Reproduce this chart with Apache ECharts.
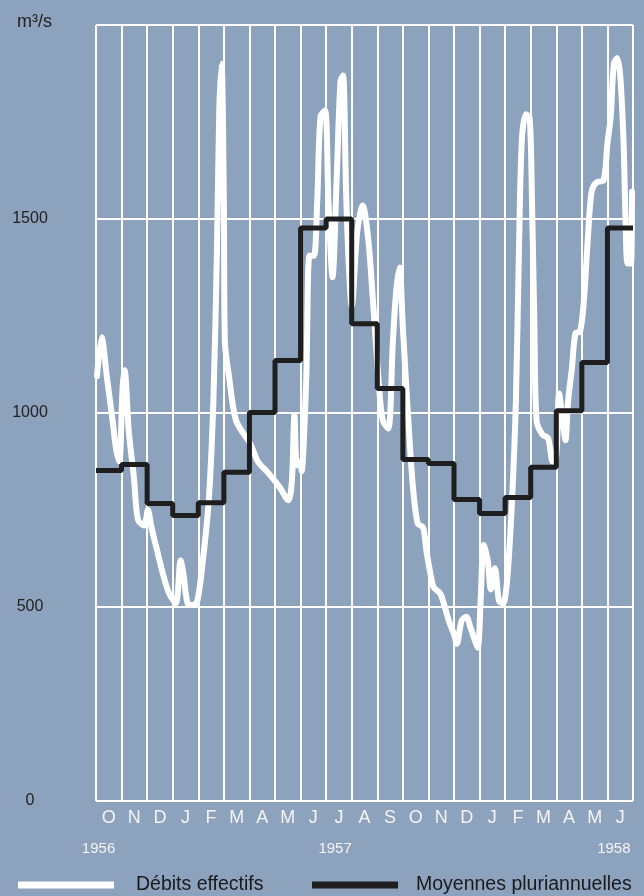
<!DOCTYPE html>
<html>
<head>
<meta charset="utf-8">
<script src="https://cdn.jsdelivr.net/npm/echarts@6/dist/echarts.min.js"></script>
<style>
html,body{margin:0;padding:0;background:#8da2bd;}
#c{width:644px;height:896px;}
</style>
</head>
<body>
<div id="c"></div>
<script>
// Month letters (Oct 1956 .. Jun 1958)
var months = ['O','N','D','J','F','M','A','M','J','J','A','S','O','N','D','J','F','M','A','M','J'];
var yearLabels = ['1956','1957','1958'];
var yTicks = [0, 500, 1000, 1500, 2000];

// Moyennes pluriannuelles (monthly mean, m3/s) per month interval
var moyennes = [852, 867, 767, 736, 769, 847, 1001, 1135, 1477, 1500, 1230, 1063,
                880, 870, 777, 741, 782, 860, 1006, 1130, 1477];

// Débits effectifs: time in months since 1 Oct 1956
var debitsT = [0.04,0.22,0.43,0.65,0.78,0.91,1.04,1.12,1.28,1.48,1.64,1.88,2.03,2.17,2.41,2.66,2.86,
  3.12,3.31,3.42,3.58,3.77,3.96,4.18,4.41,4.59,4.73,4.82,4.91,5.00,5.04,5.20,5.48,6.04,6.33,6.74,
  7.17,7.52,7.66,7.76,7.86,8.00,8.04,8.22,8.35,8.52,8.65,8.78,8.96,9.09,9.25,9.41,9.56,9.66,9.78,9.88,
  10.00,10.22,10.43,10.65,10.83,11.09,11.22,11.43,11.61,11.74,11.87,12.00,12.17,12.38,12.58,12.79,12.92,
  13.11,13.21,13.46,13.64,13.82,14.00,14.11,14.30,14.48,14.63,14.81,14.93,15.04,15.16,15.32,15.44,15.60,
  15.76,15.92,16.08,16.27,16.42,16.54,16.65,16.81,16.96,17.05,17.14,17.23,17.45,17.68,17.86,18.00,18.11,
  18.25,18.36,18.46,18.61,18.75,18.93,19.08,19.23,19.38,19.58,19.85,20.00,20.13,20.25,20.38,20.50,20.63,
  20.71,20.79,20.92,20.96];
var debitsV = [1095,1195,1090,980,910,875,1065,1110,955,835,725,710,750,705,640,575,535,
  510,620,585,510,505,515,620,775,1030,1420,1780,1900,1545,1185,1095,980,920,875,845,
  810,775,825,995,865,875,850,1085,1405,1405,1545,1765,1780,1545,1350,1600,1855,1870,1570,1390,
  1275,1470,1535,1445,1290,1050,980,960,1185,1315,1375,1220,1030,820,715,705,645,
  575,550,535,500,460,430,405,465,475,450,415,395,515,660,620,545,600,
  515,510,570,775,1030,1420,1700,1770,1760,1545,1240,980,945,935,875,890,1050,
  980,930,1030,1115,1205,1210,1290,1445,1570,1595,1600,1695,1765,1900,1915,1870,1700,
  1495,1385,1385,1570];

var debitsData = debitsT.map(function(t, i){ return [t, debitsV[i]]; });
var moyData = moyennes.map(function(v, i){ return [i, v]; });
moyData.push([months.length, moyennes[moyennes.length - 1]]);

var monthCenters = months.map(function(m, i){ return i + 0.5; });
var yearPos = [0.1, 9.35, 20.25];

var legendFont = {fontFamily: 'Liberation Sans', fontSize: 19.5, color: '#1a1a1a'};

var chart = echarts.init(document.getElementById('c'));
chart.setOption({
  backgroundColor: '#8da2bd',
  animation: false,
  title: {
    text: 'm³/s', left: 12, top: 8,
    textStyle: {fontFamily: 'Liberation Sans', fontSize: 18, fontWeight: 'normal', color: '#222'}
  },
  legend: [{
    left: 13, top: 870, icon: 'rect', itemWidth: 96, itemHeight: 7,
    textStyle: Object.assign({padding: [0, 0, 0, 17]}, legendFont),
    data: ['Débits effectifs']
  }, {
    left: 307, top: 870, icon: 'rect', itemWidth: 86, itemHeight: 7,
    textStyle: Object.assign({padding: [0, 0, 0, 13]}, legendFont),
    data: ['Moyennes pluriannuelles']
  }],
  grid: {left: 96, right: 11, top: 25, bottom: 95},
  xAxis: [{
    type: 'value', min: 0, max: months.length, interval: 1,
    axisLine: {show: false}, axisTick: {show: false},
    splitLine: {show: true, lineStyle: {color: '#ffffff', width: 2}},
    axisLabel: {
      customValues: monthCenters, margin: 8,
      fontFamily: 'Liberation Sans', fontSize: 18, color: '#f4f4f4',
      formatter: function(v){ return months[Math.floor(v)] || ''; }
    }
  }, {
    type: 'value', min: 0, max: months.length, position: 'bottom',
    axisLine: {show: false}, axisTick: {show: false}, splitLine: {show: false},
    axisLabel: {
      customValues: yearPos, margin: 40,
      fontFamily: 'Liberation Sans', fontSize: 15, color: '#f4f4f4',
      formatter: function(v){
        var k = yearPos.indexOf(v);
        return k >= 0 ? yearLabels[k] : '';
      }
    }
  }],
  yAxis: {
    type: 'value', min: yTicks[0], max: yTicks[yTicks.length - 1], interval: 500,
    axisLine: {show: false}, axisTick: {show: false},
    splitLine: {show: true, lineStyle: {color: '#ffffff', width: 2}},
    axisLabel: {
      margin: 66, align: 'center',
      fontFamily: 'Liberation Sans', fontSize: 16, color: '#222',
      formatter: function(v){ return v === 2000 ? '' : String(v); }
    }
  },
  series: [{
    name: 'Débits effectifs', type: 'line', data: debitsData,
    showSymbol: false, smooth: 0.3, z: 3,
    lineStyle: {color: '#ffffff', width: 6, join: 'round', cap: 'round'},
    itemStyle: {color: '#ffffff'}
  }, {
    name: 'Moyennes pluriannuelles', type: 'line', data: moyData,
    step: 'end', showSymbol: false, z: 4,
    lineStyle: {color: '#1e1e1e', width: 5},
    itemStyle: {color: '#1e1e1e'}
  }]
});
</script>
</body>
</html>
